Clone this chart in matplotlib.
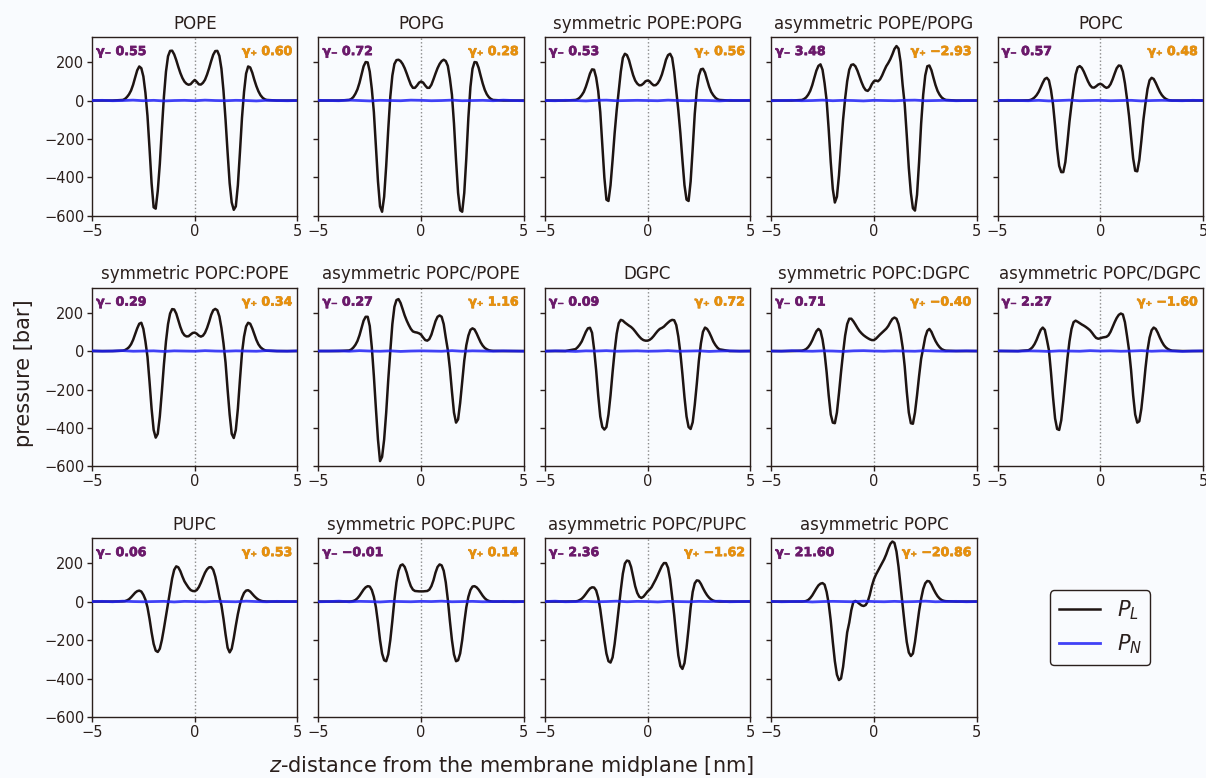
import numpy as np
import matplotlib
matplotlib.use("Agg")
import matplotlib.pyplot as plt
import matplotlib.patheffects as pe

# ---------------- data ----------------
TITLES = ["POPE", "POPG", "symmetric POPE:POPG", "asymmetric POPE/POPG", "POPC",
          "symmetric POPC:POPE", "asymmetric POPC/POPE", "DGPC", "symmetric POPC:DGPC",
          "asymmetric POPC/DGPC", "PUPC", "symmetric POPC:PUPC", "asymmetric POPC/PUPC",
          "asymmetric POPC"]

GAMMA_MINUS = [0.55, 0.72, 0.53, 3.48, 0.57, 0.29, 0.27, 0.09, 0.71, 2.27, 0.06, -0.01, 2.36, 21.60]
GAMMA_PLUS = [0.60, 0.28, 0.56, -2.93, 0.48, 0.34, 1.16, 0.72, -0.40, -1.60, 0.53, 0.14, -1.62, -20.86]

# sample positions (nm): tails + core sampled every 0.1 nm from -3.5 to 3.5
Z_CORE = np.round(np.arange(-35, 36) / 10.0, 1)
Z = np.concatenate([[-5.0, -4.0], Z_CORE, [4.0, 5.0]])

PL_POPE = [0, 0,
    3, 8, 18, 32, 52, 82, 120, 157, 177,
    168, 125, 40, -80, -250, -430, -555, -562, -470,
    -330, -150, 20, 150, 230, 258, 259, 240, 210,
    175, 143, 117, 98, 87, 82, 85, 97, 107,
    97, 84, 83, 92, 108, 135, 168, 205, 238,
    257, 258, 232, 165, 50, -100, -270, -430, -530,
    -568, -550, -440, -270, -90, 45, 140, 177, 172,
    145, 108, 75, 48, 28, 15, 7, 3,
    0, 0]
PL_POPG = [0, 0,
    3, 8, 18, 35, 58, 92, 135, 178, 200,
    198, 150, 60, -60, -240, -420, -550, -578, -500,
    -340, -150, 20, 130, 190, 210, 212, 205, 190,
    168, 140, 110, 82, 66, 66, 78, 93, 99,
    93, 78, 66, 66, 82, 110, 140, 168, 190,
    205, 212, 205, 180, 115, 30, -120, -310, -480,
    -570, -578, -480, -300, -90, 70, 165, 200, 198,
    170, 128, 88, 55, 32, 17, 8, 3,
    0, 0]
PL_SYM_POPE_POPG = [0, 0,
    3, 7, 15, 28, 45, 72, 105, 140, 162,
    160, 120, 50, -60, -230, -400, -515, -522, -440,
    -310, -170, -50, 50, 150, 222, 243, 236, 210,
    170, 132, 104, 88, 79, 80, 88, 100, 104,
    100, 88, 79, 80, 90, 108, 135, 172, 212,
    236, 243, 222, 150, 50, -50, -170, -310, -440,
    -515, -522, -420, -250, -70, 55, 130, 162, 165,
    145, 108, 72, 45, 28, 15, 7, 3,
    0, 0]
PL_ASYM_POPE_POPG = [0, 0,
    3, 8, 16, 30, 50, 80, 118, 155, 180,
    188, 160, 90, 0, -150, -320, -460, -530, -500,
    -390, -240, -100, 10, 100, 160, 185, 188, 178,
    155, 125, 95, 70, 54, 50, 62, 85, 100,
    104, 100, 110, 130, 155, 178, 195, 215, 240,
    268, 283, 270, 200, 80, -20, -180, -350, -480,
    -560, -572, -490, -320, -120, 30, 130, 178, 182,
    158, 118, 80, 50, 30, 16, 8, 3,
    0, 0]
PL_POPC = [0, 0,
    1, 3, 8, 16, 28, 45, 68, 92, 112,
    118, 105, 55, -20, -130, -250, -340, -372, -372,
    -320, -220, -110, -20, 60, 135, 172, 179, 170,
    150, 125, 100, 80, 68, 67, 74, 83, 87,
    82, 72, 66, 70, 85, 110, 140, 168, 182,
    180, 150, 90, 10, -80, -190, -300, -365, -368,
    -310, -210, -100, -15, 60, 105, 118, 112, 92,
    68, 45, 28, 16, 8, 3, 1, 0,
    0, 0]
PL_SYM_POPC_POPE = [0, 0,
    2, 5, 11, 20, 35, 58, 88, 118, 142,
    147, 115, 50, -30, -160, -300, -410, -450, -430,
    -340, -210, -70, 50, 140, 195, 218, 216, 195,
    160, 125, 97, 82, 76, 77, 86, 94, 96,
    90, 80, 75, 80, 95, 120, 152, 188, 212,
    219, 212, 180, 120, 40, -60, -200, -330, -430,
    -452, -410, -300, -150, -10, 75, 128, 147, 142,
    118, 88, 58, 35, 20, 11, 5, 2,
    0, 0]
PL_ASYM_POPC_POPE = [0, 0,
    3, 8, 18, 32, 52, 82, 120, 158, 178,
    178, 130, 20, -130, -300, -460, -572, -550, -460,
    -320, -150, 0, 140, 230, 265, 270, 250, 218,
    185, 158, 135, 115, 102, 98, 96, 92, 85,
    70, 57, 54, 62, 85, 120, 155, 178, 185,
    178, 140, 70, 5, -90, -210, -320, -372, -355,
    -270, -160, -50, 30, 80, 110, 118, 112, 92,
    68, 45, 28, 16, 9, 4, 2, 1,
    0, 0]
PL_DGPC = [0, 0,
    10, 20, 33, 50, 75, 100, 118, 121, 95,
    10, -100, -230, -340, -395, -408, -395, -330, -230,
    -110, 0, 90, 145, 162, 158, 148, 140, 132,
    125, 115, 102, 88, 75, 64, 57, 54, 54,
    58, 66, 78, 92, 105, 115, 120, 127, 138,
    148, 157, 162, 160, 135, 75, -10, -120, -240,
    -340, -395, -405, -370, -280, -170, -50, 40, 100,
    122, 115, 98, 75, 50, 32, 18, 9,
    0, 0]
PL_SYM_POPC_DGPC = [0, 0,
    2, 5, 10, 20, 35, 55, 80, 103, 115,
    105, 60, -10, -110, -230, -330, -372, -375, -320,
    -220, -110, -10, 80, 140, 168, 168, 155, 138,
    120, 104, 92, 82, 74, 67, 61, 57, 57,
    64, 75, 86, 96, 106, 116, 130, 150, 167,
    174, 168, 140, 90, 20, -80, -210, -320, -375,
    -378, -320, -230, -130, -40, 15, 72, 105, 115,
    100, 75, 52, 34, 20, 10, 5, 2,
    0, 0]
PL_ASYM_POPC_DGPC = [0, 0,
    4, 10, 20, 36, 58, 85, 110, 122, 110,
    60, 5, -110, -240, -350, -405, -410, -360, -260,
    -150, -40, 50, 115, 150, 158, 152, 145, 138,
    132, 125, 117, 108, 95, 80, 68, 64, 66,
    70, 72, 74, 82, 100, 125, 150, 172, 188,
    195, 190, 150, 80, 5, -100, -230, -330, -372,
    -365, -300, -200, -90, 5, 70, 108, 122, 115,
    95, 70, 48, 30, 18, 10, 5, 2,
    0, 0]
PL_PUPC = [0, 0,
    1, 2, 6, 12, 22, 34, 46, 54, 57,
    52, 35, 10, -30, -90, -160, -220, -255, -262,
    -245, -200, -140, -75, -10, 55, 120, 165, 183,
    178, 158, 130, 105, 88, 72, 60, 55, 54,
    60, 75, 98, 125, 150, 168, 178, 179, 165,
    130, 80, 25, -20, -90, -170, -240, -264, -245,
    -190, -125, -65, -15, 20, 45, 57, 59, 52,
    40, 28, 18, 10, 5, 2, 1, 0,
    0, 0]
PL_SYM_POPC_PUPC = [0, 0,
    0, 1, 3, 8, 17, 30, 46, 62, 74,
    80, 78, 60, 25, -30, -110, -200, -270, -305,
    -310, -275, -200, -100, 10, 100, 160, 188, 193,
    180, 150, 110, 80, 62, 55, 54, 53, 53,
    53, 54, 55, 62, 80, 110, 150, 180, 193,
    188, 160, 100, 10, -100, -200, -275, -310, -305,
    -270, -200, -110, -30, 25, 60, 78, 80, 74,
    62, 46, 30, 17, 8, 3, 1, 0,
    0, 0]
PL_ASYM_POPC_PUPC = [0, 0,
    1, 3, 8, 15, 26, 40, 55, 68, 74,
    73, 58, 20, -40, -120, -200, -270, -310, -317,
    -290, -220, -130, -35, 60, 145, 198, 213, 210,
    180, 130, 80, 45, 25, 19, 25, 38, 52,
    62, 75, 95, 115, 138, 162, 185, 200, 200,
    175, 115, 25, -70, -180, -280, -335, -350, -320,
    -240, -140, -30, 50, 95, 110, 108, 92, 70,
    50, 33, 20, 11, 5, 2, 1, 0,
    0, 0]
PL_ASYM_POPC = [0, 0,
    0, 1, 3, 8, 18, 32, 50, 68, 84,
    93, 96, 88, 50, -10, -100, -210, -310, -380,
    -408, -400, -340, -250, -160, -110, -45, -2, 3,
    -3, -12, -20, -23, -18, 0, 35, 80, 115,
    140, 160, 180, 200, 220, 245, 275, 300, 312,
    305, 260, 180, 80, -20, -120, -210, -265, -283,
    -270, -210, -130, -50, 15, 65, 95, 107, 105,
    88, 65, 45, 28, 16, 8, 4, 2,
    0, 0]

PL = [PL_POPE, PL_POPG, PL_SYM_POPE_POPG, PL_ASYM_POPE_POPG, PL_POPC,
      PL_SYM_POPC_POPE, PL_ASYM_POPC_POPE, PL_DGPC, PL_SYM_POPC_DGPC, PL_ASYM_POPC_DGPC,
      PL_PUPC, PL_SYM_POPC_PUPC, PL_ASYM_POPC_PUPC, PL_ASYM_POPC]

# normal pressure, sampled every 0.5 nm (essentially flat)
ZN = np.round(np.arange(-10, 11) / 2.0, 1)
PN = [
    [0, 1, -1, 0, 2, -1, 1, -2, 0, 1, -1, 2, 0, -1, 1, 0, -2, 1, 0, -1, 0],
    [1, 0, -1, 2, 0, -2, 1, 0, -1, 2, 1, -1, 0, 2, -1, 0, 1, -1, 2, 0, -1],
    [0, -1, 1, 0, -2, 1, 2, -1, 0, 1, 0, -1, 2, 0, -1, 1, 0, -2, 1, 0, 1],
    [-1, 0, 1, -1, 0, 2, -1, 1, 0, -2, 1, 0, -1, 1, 2, -1, 0, 1, -1, 0, 0],
    [0, 1, 0, -1, 1, -2, 0, 2, -1, 0, 1, -1, 0, 1, -2, 0, 1, 0, -1, 1, 0],
    [1, -1, 0, 2, -1, 0, 1, -2, 1, 0, -1, 2, 0, -1, 1, 0, -1, 2, 0, -1, 1],
    [0, 0, 1, -1, 2, 0, -1, 1, -2, 0, 1, 0, -1, 2, -1, 1, 0, -1, 1, 0, -1],
    [-1, 1, 0, -2, 1, 0, 2, -1, 0, 1, -1, 0, 2, -1, 0, 1, -2, 0, 1, -1, 0],
    [0, -1, 2, 0, -1, 1, 0, -2, 1, 2, 0, -1, 1, 0, -1, 2, 0, -1, 0, 1, 0],
    [1, 0, -1, 1, 0, -2, 1, 0, -1, 2, 0, 1, -1, 0, 2, -1, 1, 0, -2, 0, 1],
    [0, 1, -1, 2, 0, -1, 0, 1, -2, 1, 0, -1, 1, 0, -1, 2, 0, -1, 1, 0, 0],
    [-1, 0, 2, -1, 1, 0, -2, 1, 0, -1, 1, 0, 2, -1, 0, 1, -1, 0, 1, -1, 0],
    [0, 2, -1, 0, 1, -1, 0, 2, -1, 1, 0, -2, 1, 0, -1, 1, 0, 2, -1, 0, 1],
    [1, -1, 0, 1, -2, 0, 1, 0, -1, 2, 0, -1, 1, -1, 0, 2, -1, 0, 1, -1, 0],
]

# ---------------- style ----------------
BG = "#f9fbfe"
INK = "#2a1f1c"
PL_COLOR = "#1e1412"
PN_COLOR = "#2020f5"
PURPLE = "#6b1a6b"
ORANGE = "#e8900c"

plt.rcParams.update({
    "font.family": ["DejaVu Sans"],
    "text.color": INK,
    "axes.edgecolor": INK,
    "axes.labelcolor": INK,
    "xtick.color": INK,
    "ytick.color": INK,
    "axes.linewidth": 1.0,
})

fig, axes = plt.subplots(3, 5, figsize=(12.06, 7.78), dpi=100, sharey=True)
fig.patch.set_facecolor(BG)
fig.subplots_adjust(left=0.0763, right=0.9975, top=0.9524, bottom=0.0784,
                    wspace=0.102, hspace=0.40)

def fmt(v):
    return f"{v:.2f}".replace("-", "\u2212")

flat = axes.ravel()
for i, ax in enumerate(flat[:14]):
    ax.set_facecolor(BG)
    ax.axvline(0, color="#8a8a8a", linestyle=":", linewidth=1.0, zorder=1)
    lp, = ax.plot(Z, PL[i], color=PL_COLOR, linewidth=1.8, zorder=3)
    ln, = ax.plot(ZN, PN[i], color=PN_COLOR, linewidth=2.0, alpha=0.85, zorder=4)
    ax.set_xlim(-5, 5)
    ax.set_ylim(-600, 330)
    ax.set_xticks([-5, 0, 5])
    ax.set_yticks([-600, -400, -200, 0, 200])
    ax.tick_params(labelsize=10.5, length=3.5, width=1.0, pad=2)
    ax.set_title(TITLES[i], fontsize=12, pad=6)
    tm = ax.text(0.02, 0.955, "\u03b3\u208b " + fmt(GAMMA_MINUS[i]), transform=ax.transAxes,
                 ha="left", va="top", fontsize=9, fontweight="bold", color=PURPLE, zorder=5)
    tp = ax.text(0.975, 0.955, "\u03b3\u208a " + fmt(GAMMA_PLUS[i]), transform=ax.transAxes,
                 ha="right", va="top", fontsize=9, fontweight="bold", color=ORANGE, zorder=5)
    tm.set_path_effects([pe.withStroke(linewidth=0.5, foreground=PURPLE)])
    tp.set_path_effects([pe.withStroke(linewidth=0.5, foreground="#d08a20")])

# legend panel
lax = flat[14]
lax.axis("off")
leg = lax.legend([lp, ln], [r"$P_L$", r"$P_N$"], loc="center", fontsize=15,
                 handlelength=2.0, frameon=True, fancybox=True)
leg.get_frame().set_edgecolor(INK)
leg.get_frame().set_facecolor(BG)
leg.get_frame().set_linewidth(1.0)
leg.get_frame().set_alpha(1.0)

fig.text(0.02, 0.52, "pressure [bar]", rotation=90, ha="center", va="center", fontsize=15)
fig.text(0.424, 0.015, r"$z$-distance from the membrane midplane [nm]",
         ha="center", va="center", fontsize=15)

fig.savefig("out.png", dpi=100, facecolor=BG)
